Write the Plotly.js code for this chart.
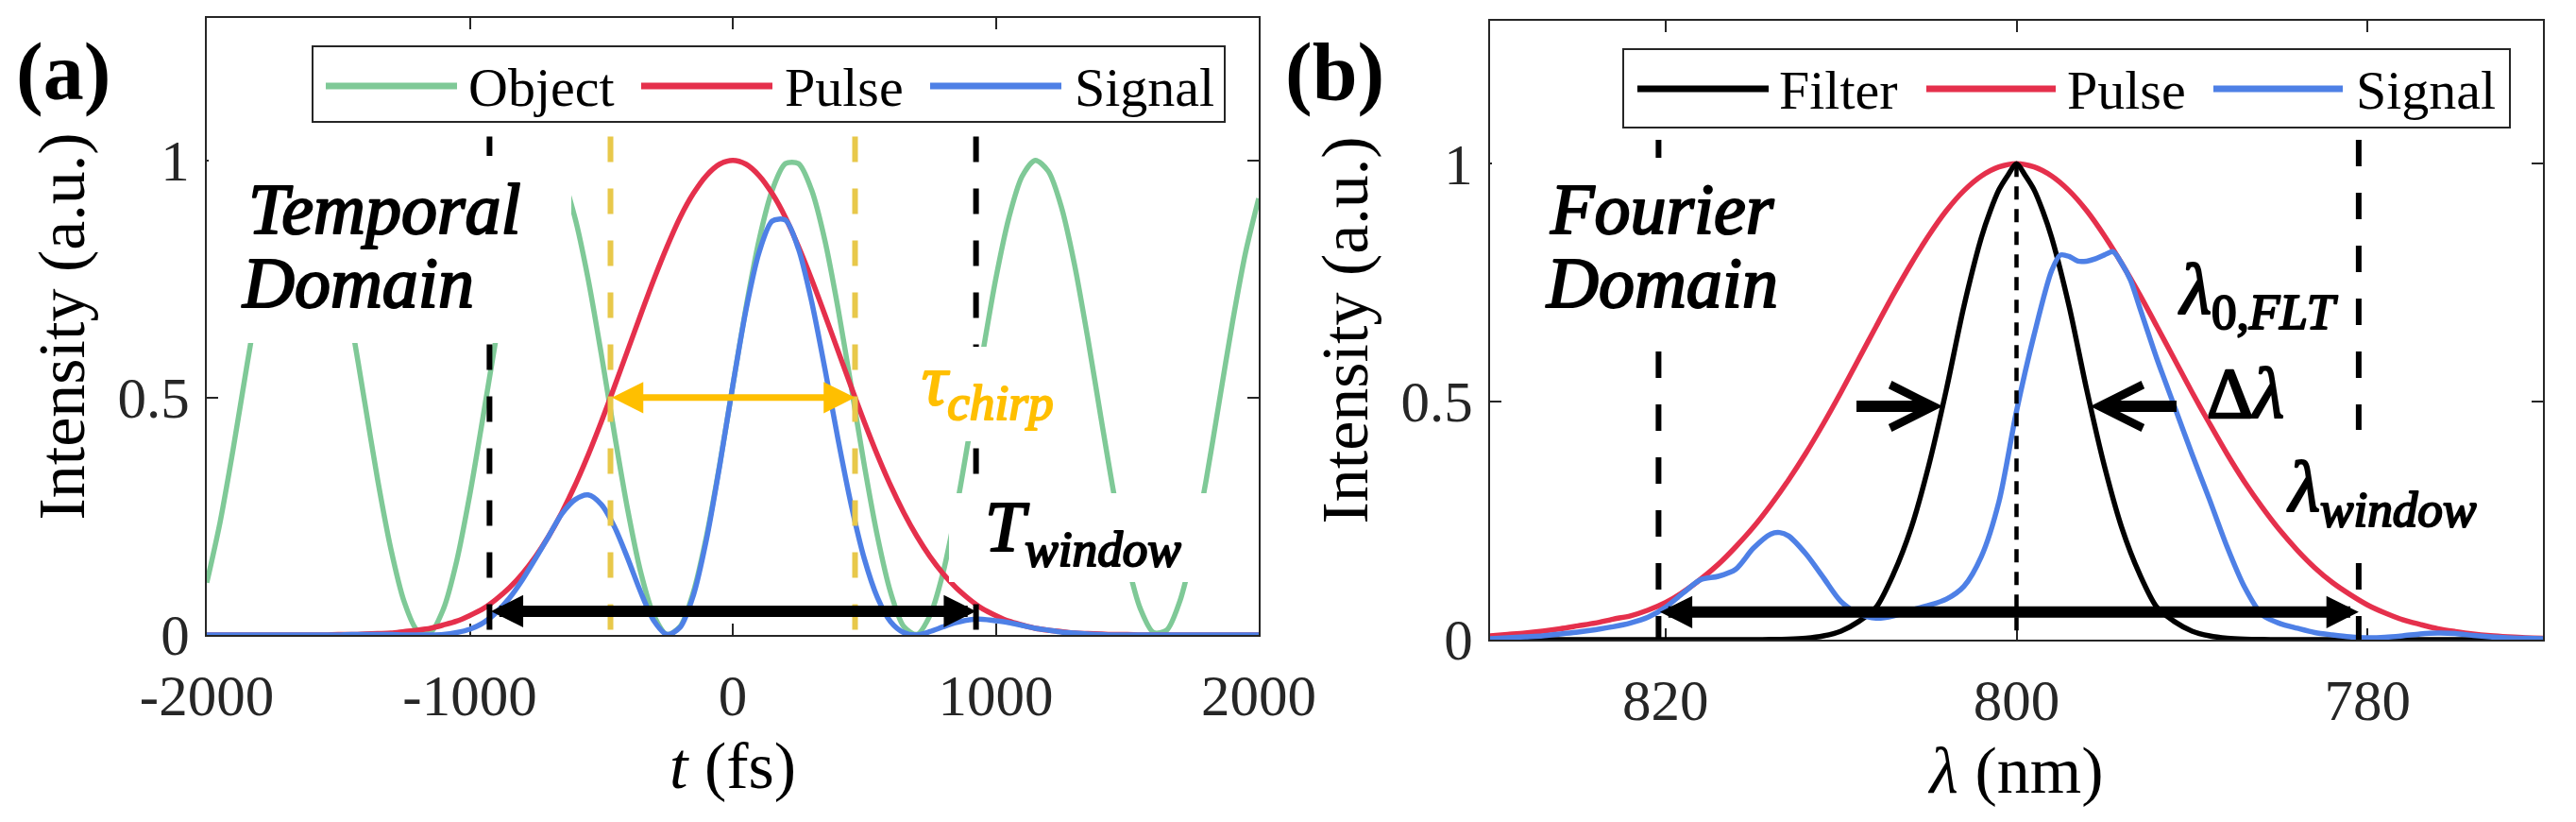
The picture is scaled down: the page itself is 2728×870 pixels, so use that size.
<!DOCTYPE html>
<html><head><meta charset="utf-8">
<script src="https://cdn.plot.ly/plotly-3.0.1.min.js"></script>
<style>
html,body{margin:0;padding:0;background:#fff}
text, tspan{font-family:"Liberation Serif" !important;}
.modebar-container{display:none !important;}
</style>
</head><body><div id="chart" style="width:2728px;height:870px"></div>
<script>
// ---------------- data ----------------
// Panel (a): temporal domain
const timeFs = [-2000,-1950,-1900,-1850,-1800,-1750,-1700,-1650,-1600,-1550,-1500,-1450,-1400,-1350,-1300,-1250,-1200,-1150,-1100,-1050,-1000,-950,-900,-850,-800,-750,-700,-650,-600,-550,-500,-450,-400,-350,-300,-250,-200,-150,-100,-50,0,50,100,150,200,250,300,350,400,450,500,550,600,650,700,750,800,850,900,950,1000,1050,1100,1150,1200,1250,1300,1350,1400,1450,1500,1550,1600,1650,1700,1750,1800,1850,1900,1950,2000];
const objectA = [0.110,0.236,0.391,0.559,0.720,0.856,0.953,0.997,0.986,0.920,
 0.806,0.658,0.492,0.326,0.181,0.071,0.010,0.005,0.055,0.155,
 0.295,0.458,0.625,0.779,0.901,0.977,1.000,0.966,0.879,0.750,
 0.592,0.424,0.265,0.132,0.041,0.001,0.018,0.090,0.208,0.358,
 0.525,0.689,0.832,0.937,0.993,0.993,0.937,0.832,0.689,0.525,
 0.358,0.208,0.090,0.018,0.001,0.041,0.132,0.265,0.424,0.592,
 0.750,0.879,0.966,1.000,0.977,0.901,0.779,0.625,0.458,0.295,
 0.155,0.055,0.005,0.010,0.071,0.181,0.326,0.492,0.658,0.806,
 0.920];
const pulseA = [0,0,0,0,0,0,0,0,0,0,
 0.001,0.001,0.002,0.003,0.004,0.007,0.010,0.014,0.021,0.029,
 0.041,0.055,0.075,0.099,0.129,0.165,0.208,0.258,0.315,0.379,
 0.449,0.523,0.599,0.675,0.749,0.818,0.880,0.930,0.968,0.992,
 1.000,0.992,0.968,0.930,0.880,0.818,0.749,0.675,0.599,0.523,
 0.449,0.379,0.315,0.258,0.208,0.165,0.129,0.099,0.075,0.055,
 0.041,0.029,0.021,0.014,0.010,0.007,0.004,0.003,0.002,0.001,
 0.001,0,0,0,0,0,0,0,0,0,
 0];
const signalA = [0,0,0,0,0,0,0,0,0,0,
 0,0.001,0.001,0.001,0.001,0,0,0,0.001,0.005,
 0.012,0.025,0.047,0.077,0.116,0.161,0.208,0.255,0.285,0.295,
 0.275,0.228,0.162,0.090,0.030,0.001,0.016,0.083,0.201,0.356,
 0.525,0.684,0.806,0.872,0.874,0.813,0.702,0.562,0.413,0.275,
 0.161,0.079,0.028,0.005,0,0.007,0.017,0.026,0.032,0.033,
 0.030,0.026,0.020,0.014,0.010,0.006,0.004,0.002,0.001,0,
 0,0,0,0,0,0,0,0,0,0,
 0];
const tWindow = [-925, 925];      // black dashed lines / T_window arrow ends (fs)
const tChirp = [-465, 465];       // yellow dashed lines / tau_chirp arrow ends (fs)
const tWindowArrowY = 0.05;
const tChirpArrowY = 0.5;

// Panel (b): Fourier domain
const lambdaPulse = [770,771,772,773,774,775,776,777,778,779,780,781,782,783,784,785,786,787,788,789,790,791,792,793,794,795,796,797,798,799,800,801,802,803,804,805,806,807,808,809,810,811,812,813,814,815,816,817,818,819,820,821,822,823,824,825,826,827,828,829,830];
const pulseB = [0.003,0.004,0.006,0.0085,0.012,0.017,0.023,0.032,0.042,0.056,
 0.073,0.095,0.120,0.151,0.188,0.230,0.278,0.331,0.390,0.454,
 0.520,0.589,0.658,0.726,0.790,0.849,0.901,0.943,0.974,0.993,
 1.000,0.993,0.974,0.943,0.901,0.849,0.790,0.726,0.658,0.589,
 0.520,0.454,0.392,0.335,0.283,0.236,0.195,0.158,0.127,0.100,
 0.078,0.062,0.050,0.043,0.035,0.029,0.023,0.018,0.014,0.011,
 0.008];
const lambdaFilter = [770,775,780,784,785,786,787,788,789,790,791,792,793,794,795,796,797,798,798.5,799,799.5,800,800.5,801,801.5,802,803,804,805,806,807,808,809,810,811,812,813,814,815,816,820,825,830];
const filterB = [0,0,0,0,0.0001,0.0003,0.001,0.003,0.008,0.018,0.038,0.068,0.139,0.235,0.366,0.525,0.700,0.845,0.900,0.945,0.975,1.000,0.975,0.945,0.900,0.845,0.700,0.525,0.366,0.235,0.139,0.068,0.038,0.018,0.008,0.003,0.001,0.0003,0.0001,0,0,0,0];
const lambdaSignal = [770,771,772,773,774,775,776,777,778,779,780,781,782,783,784,785,786,787,788,789,790,791,792,793,793.5,794,794.5,795,795.5,796,796.5,797,797.5,798,799,800,801,802,803,804,805,806,807,808,809,810,811,812,813,813.5,814,815,816,817,818,819,820,821,822,823,824,825,826,827,828,829,830];
const signalB = [0.002,0.003,0.004,0.006,0.009,0.013,0.014,0.012,0.008,0.005,
 0.004,0.006,0.010,0.015,0.024,0.034,0.052,0.110,0.195,0.294,
 0.390,0.490,0.590,0.700,0.755,0.790,0.815,0.808,0.800,0.795,
 0.795,0.805,0.808,0.775,0.640,0.480,0.290,0.175,0.112,0.085,
 0.072,0.062,0.050,0.045,0.055,0.080,0.130,0.180,0.218,0.225,
 0.222,0.192,0.148,0.133,0.126,0.098,0.068,0.047,0.035,0.027,
 0.021,0.016,0.012,0.008,0.006,0.004,0.002];
const lambdaWindow = [820.4, 780.5];  // black dashed lines / lambda_window arrow ends (nm)
const lambdaFLT = 800;                // filter centre (nm)
const deltaLambdaTips = [804.2, 795.8];
const deltaLambdaTails = [809.2, 790.8];
const lambdaWindowArrowY = 0.058;
const deltaLambdaArrowY = 0.49;
const dashTop = 1.05;
const centreTop = 1.0;

// ticks
const xTickValsA = [-2000,-1000,0,1000,2000];
const xTickTextA = ['-2000','-1000','0','1000','2000'];
const xTickValsB = [820,800,780];
const xTickTextB = ['820','800','780'];
const yTickVals = [0,0.5,1];
const yTickText = ['0','0.5','1'];

// ---------------- styling ----------------
const SERIF = 'Liberation Serif';
const GREEN = '#7FC997', RED = '#E5304C', BLUE = '#4E80E6', BLACK = '#000000';
const YDASH = '#E8C84A', ORANGE = '#FFBF00', AXC = '#262626';
const PW = 2728, PH = 870;
const px = p => p / PW;
const py = p => 1 - p / PH;

function curve(x, y, color, xa, ya, name) {
  return {x: x, y: y, type: 'scatter', mode: 'lines', name: name, xaxis: xa, yaxis: ya,
    line: {color: color, width: 5.5, shape: 'spline', smoothing: 0.8}, showlegend: false, hoverinfo: 'skip'};
}
function vlines(xs, top, color, width, dash, xa, ya) {
  const xx = [], yy = [];
  xs.forEach(v => { xx.push(v, v, null); yy.push(top, 0, null); });
  return {x: xx, y: yy, type: 'scatter', mode: 'lines', xaxis: xa, yaxis: ya,
    line: {color: color, width: width, dash: dash}, showlegend: false, hoverinfo: 'skip'};
}

const traces = [
  curve(timeFs, objectA, GREEN, 'x', 'y', 'Object'),
  curve(timeFs, pulseA, RED, 'x', 'y', 'Pulse'),
  curve(timeFs, signalA, BLUE, 'x', 'y', 'Signal'),
  vlines(tChirp, dashTop, YDASH, 6, '27px,28px', 'x', 'y'),
  vlines(tWindow, dashTop, BLACK, 6, '27px,28px', 'x', 'y'),
  curve(lambdaPulse, pulseB, RED, 'x2', 'y2', 'Pulse'),
  curve(lambdaFilter, filterB, BLACK, 'x2', 'y2', 'Filter'),
  curve(lambdaSignal, signalB, BLUE, 'x2', 'y2', 'Signal'),
  vlines(lambdaWindow, dashTop, BLACK, 6, '28px,28px', 'x2', 'y2'),
  vlines([lambdaFLT], centreTop, BLACK, 4.5, '14px,10px', 'x2', 'y2')
];

function axis(extra) {
  return Object.assign({
    showline: true, linecolor: AXC, linewidth: 2, mirror: 'ticks',
    ticks: 'inside', ticklen: 12, tickwidth: 2, tickcolor: AXC,
    showgrid: false, zeroline: false, tickmode: 'array', layer: 'below traces',
    tickfont: {family: SERIF, size: 61, color: AXC}
  }, extra);
}
const titleFont = {family: SERIF, size: 70, color: '#000000'};

// white text backgrounds (as in the reference)
function whiteBox(x0, y0, x1, y1) {
  return {type: 'rect', xref: 'paper', yref: 'paper', x0: px(x0), x1: px(x1), y0: py(y1), y1: py(y0),
    fillcolor: '#ffffff', line: {width: 0}, layer: 'above'};
}
function legendBox(x0, y0, x1, y1) {
  return {type: 'rect', xref: 'paper', yref: 'paper', x0: px(x0), x1: px(x1), y0: py(y1), y1: py(y0),
    fillcolor: '#ffffff', line: {width: 2, color: AXC}, layer: 'above'};
}
function legendLine(x0, x1, y, color) {
  return {type: 'line', xref: 'paper', yref: 'paper', x0: px(x0), x1: px(x1), y0: py(y), y1: py(y),
    line: {color: color, width: 7}, layer: 'above'};
}
const shapes = [
  whiteBox(221, 165, 605, 363),
  whiteBox(968, 367, 1140, 467),
  whiteBox(1005, 522, 1300, 616),
  whiteBox(1580, 167, 1925, 367),
  whiteBox(2450, 455, 2660, 593),
  legendBox(331, 49, 1297, 129),
  legendLine(345, 484, 91, GREEN), legendLine(679, 818, 91, RED), legendLine(985, 1124, 91, BLUE),
  legendBox(1719, 52, 2658, 135),
  legendLine(1734, 1873, 94, BLACK), legendLine(2040, 2177, 94, RED), legendLine(2344, 2481, 94, BLUE)
];

function txt(text, x, y, size, opts) {
  return Object.assign({text: text, xref: 'paper', yref: 'paper', x: px(x), y: py(y), showarrow: false,
    xanchor: 'left', yanchor: 'middle', borderpad: 0,
    font: {family: SERIF, size: size, color: '#000000'}}, opts || {});
}
function arrow(xa, ya, tipX, tailX, y, color, width, head, size, both) {
  const a = {xref: xa, yref: ya, axref: xa, ayref: ya, x: tipX, y: y, ax: tailX, ay: y, text: '',
    showarrow: true, arrowhead: head, arrowsize: size, arrowwidth: width, arrowcolor: color,
    standoff: 0, font: {family: SERIF, size: 1}};
  if (both) { a.arrowside = 'end+start'; a.startarrowhead = head; a.startarrowsize = size; a.startstandoff = 0; }
  return a;
}

// heavy italic labels (emboldened after drawing, since no bold-italic serif face is available)
const heavyLabels = ['Temporal', 'Domain', 'Fourier', 'τchirp', 'Twindow', 'λ0,FLT', 'Δλ', 'λwindow'];

const annotations = [
  txt('<b>(a)</b>', 67, 76, 86, {xanchor: 'center'}),
  txt('<b>(b)</b>', 1413, 76, 86, {xanchor: 'center'}),
  // legends
  txt('Object', 495, 92, 58), txt('Pulse', 830, 92, 58), txt('Signal', 1137, 92, 58),
  txt('Filter', 1883, 95, 58), txt('Pulse', 2188, 95, 58), txt('Signal', 2494, 95, 58),
  // panel texts
  txt('<i>Temporal</i>', 262, 221, 76),
  txt('<i>Domain</i>', 255, 299, 76),
  txt('<i>Fourier</i>', 1640, 221, 76),
  txt('<i>Domain</i>', 1636, 299, 76),
  txt('<i>τ<sub>chirp</sub></i>', 975, 359, 76, {yanchor: 'top', font: {family: SERIF, size: 76, color: ORANGE}}),
  txt('<i>T<sub>window</sub></i>', 1042, 514, 76, {yanchor: 'top'}),
  txt('<i>λ</i><sub>0,<i>FLT</i></sub>', 2306, 263, 76, {yanchor: 'top'}),
  txt('Δ<i>λ</i>', 2336, 416, 76),
  txt('<i>λ<sub>window</sub></i>', 2421, 472, 76, {yanchor: 'top'}),
  // arrows
  arrow('x', 'y', tChirp[1], tChirp[0], tChirpArrowY, ORANGE, 7, 2, 0.95, true),
  arrow('x', 'y', tWindow[1], tWindow[0], tWindowArrowY, BLACK, 12, 2, 0.57, true),
  arrow('x2', 'y2', lambdaWindow[1], lambdaWindow[0], lambdaWindowArrowY, BLACK, 12, 2, 0.57, true),
  arrow('x2', 'y2', deltaLambdaTips[0], deltaLambdaTails[0], deltaLambdaArrowY, BLACK, 12, 5, 0.75, false),
  arrow('x2', 'y2', deltaLambdaTips[1], deltaLambdaTails[1], deltaLambdaArrowY, BLACK, 12, 5, 0.75, false)
];

const layout = {
  width: PW, height: PH, margin: {l: 0, r: 0, t: 0, b: 0},
  paper_bgcolor: '#ffffff', plot_bgcolor: '#ffffff', showlegend: false,
  font: {family: SERIF, size: 40, color: '#000000'},
  xaxis: axis({domain: [px(219), px(1333)], range: [-2000, 2000], anchor: 'y',
    tickvals: xTickValsA, ticktext: xTickTextA, ticklabelstandoff: 10,
    title: {text: '<i>t</i> (fs)', font: titleFont, standoff: 16}}),
  yaxis: axis({domain: [py(672), py(19)], range: [0, 1.3], anchor: 'x',
    tickvals: yTickVals, ticktext: yTickText, ticklabelstandoff: 4,
    title: {text: 'Intensity (a.u.)', font: titleFont, standoff: 12}}),
  xaxis2: axis({domain: [px(1578), px(2693)], range: [830, 770], anchor: 'y2',
    tickvals: xTickValsB, ticktext: xTickTextB, ticklabelstandoff: 10,
    title: {text: '<i>λ</i> (nm)', font: titleFont, standoff: 16}}),
  yaxis2: axis({domain: [py(677), py(22)], range: [0, 1.3], anchor: 'x2',
    tickvals: yTickVals, ticktext: yTickText, ticklabelstandoff: 4,
    title: {text: 'Intensity (a.u.)', font: titleFont, standoff: 12}}),
  shapes: shapes,
  annotations: annotations
};

function normalise(s) { return (s || '').replace(/[\u200b\u200c\u200d\u2060\ufeff\s]/g, ''); }

Plotly.newPlot('chart', traces, layout).then(function () {
  document.querySelectorAll('#chart text.annotation-text').forEach(function (t) {
    if (heavyLabels.indexOf(normalise(t.textContent)) >= 0) {
      var fill = t.style.fill || '#000000';
      t.style.stroke = fill;
      t.style.strokeWidth = '2.6px';
      t.style.strokeLinejoin = 'round';
      t.querySelectorAll('tspan').forEach(function (s) {
        s.style.stroke = fill; s.style.strokeWidth = '2.2px'; s.style.strokeLinejoin = 'round';
      });
    }
  });
});
</script>
</body></html>
